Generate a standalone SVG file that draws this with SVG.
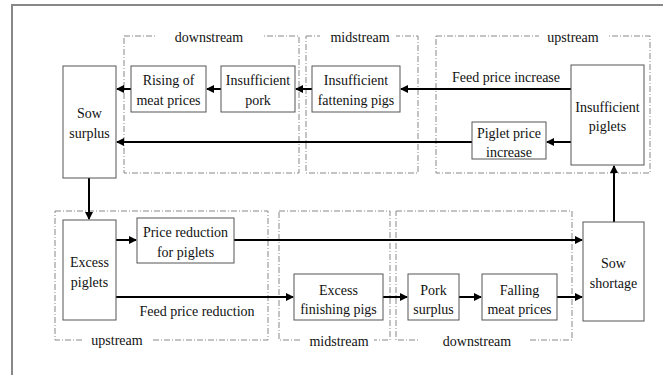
<svg xmlns="http://www.w3.org/2000/svg" width="663" height="375" viewBox="0 0 663 375" font-family="Liberation Serif, Times New Roman, serif">
<style>
.box{fill:#fff;stroke:#555;stroke-width:1}
.grp{fill:none;stroke:#888;stroke-width:1;stroke-dasharray:6 2 1 2}
.t{font-size:14px;fill:#111;text-anchor:middle}
.lbl{fill:#fff}
.c{fill:none;stroke:#000;stroke-width:2}
</style>
<defs>
<marker id="ah" viewBox="0 0 8 8" refX="7" refY="4" markerWidth="4" markerHeight="4" orient="auto" markerUnits="strokeWidth">
<path d="M0,0 L8,4 L0,8 Z" fill="#000"/>
</marker>
</defs>
<rect width="663" height="375" fill="#fff"/>
<rect x="12" y="5" width="670" height="390" fill="none" stroke="#888" stroke-width="2"/>

<g id="groups">
<rect class="grp" x="124" y="36" width="175" height="137"/>
<rect class="lbl" x="157" y="30" width="105" height="14"/>
<text class="t" x="209" y="42">downstream</text>
<rect class="grp" x="306" y="36" width="112" height="137"/>
<rect class="lbl" x="320" y="30" width="76" height="14"/>
<text class="t" x="360" y="42">midstream</text>
<rect class="grp" x="436" y="36" width="214" height="137"/>
<rect class="lbl" x="539" y="30" width="69" height="14"/>
<text class="t" x="573" y="42">upstream</text>

<rect class="grp" x="55" y="211" width="213" height="129"/>
<rect class="lbl" x="82" y="333" width="70" height="14"/>
<text class="t" x="117" y="345">upstream</text>
<rect class="grp" x="279" y="211" width="111" height="129"/>
<rect class="lbl" x="302" y="333" width="72" height="14"/>
<text class="t" x="339" y="346">midstream</text>
<rect class="grp" x="396" y="211" width="176" height="129"/>
<rect class="lbl" x="419" y="333" width="111" height="14"/>
<text class="t" x="477" y="346">downstream</text>
</g>

<g id="connectors">
<line class="c" x1="131" y1="89" x2="117" y2="89" marker-end="url(#ah)"/>
<line class="c" x1="221" y1="89" x2="207" y2="89" marker-end="url(#ah)"/>
<line class="c" x1="312" y1="89" x2="296" y2="89" marker-end="url(#ah)"/>
<line class="c" x1="571" y1="89" x2="401" y2="89" marker-end="url(#ah)"/>
<line class="c" x1="571" y1="142" x2="547" y2="142" marker-end="url(#ah)"/>
<line class="c" x1="472" y1="142" x2="117" y2="142" marker-end="url(#ah)"/>
<line class="c" x1="89" y1="178" x2="89" y2="219" marker-end="url(#ah)"/>
<line class="c" x1="116" y1="240" x2="136" y2="240" marker-end="url(#ah)"/>
<line class="c" x1="234" y1="240" x2="582" y2="240" marker-end="url(#ah)"/>
<line class="c" x1="116" y1="297" x2="293" y2="297" marker-end="url(#ah)"/>
<line class="c" x1="383" y1="297" x2="407" y2="297" marker-end="url(#ah)"/>
<line class="c" x1="459" y1="297" x2="481" y2="297" marker-end="url(#ah)"/>
<line class="c" x1="557" y1="297" x2="582" y2="297" marker-end="url(#ah)"/>
<line class="c" x1="614" y1="222" x2="614" y2="166" marker-end="url(#ah)"/>
<text class="t" x="506" y="82">Feed price increase</text>
<text class="t" x="197" y="316">Feed price reduction</text>
</g>

<g id="sow-surplus"><rect class="box" x="63" y="66" width="53" height="112"/><text class="t" x="89.5" y="118">Sow</text><text class="t" x="89.5" y="138">surplus</text></g>
<g id="rising-meat-prices"><rect class="box" x="131" y="66" width="75" height="46"/><text class="t" x="168.5" y="85">Rising of</text><text class="t" x="168.5" y="105">meat prices</text></g>
<g id="insufficient-pork"><rect class="box" x="221" y="66" width="74" height="46"/><text class="t" x="258" y="85">Insufficient</text><text class="t" x="258" y="105">pork</text></g>
<g id="insufficient-fattening-pigs"><rect class="box" x="312" y="66" width="88" height="46"/><text class="t" x="356" y="85">Insufficient</text><text class="t" x="356" y="105">fattening pigs</text></g>
<g id="insufficient-piglets"><rect class="box" x="571" y="65" width="73" height="100"/><text class="t" x="607.5" y="112">Insufficient</text><text class="t" x="607.5" y="131">piglets</text></g>
<g id="piglet-price-increase"><rect class="box" x="472" y="122" width="74" height="37"/><text class="t" x="509" y="138">Piglet price</text><text class="t" x="509" y="157">increase</text></g>
<g id="excess-piglets"><rect class="box" x="63" y="220" width="53" height="100"/><text class="t" x="89.5" y="267">Excess</text><text class="t" x="89.5" y="287">piglets</text></g>
<g id="price-reduction-piglets"><rect class="box" x="137" y="218" width="97" height="45"/><text class="t" x="185.5" y="237">Price reduction</text><text class="t" x="185.5" y="257">for piglets</text></g>
<g id="excess-finishing-pigs"><rect class="box" x="294" y="274" width="89" height="46"/><text class="t" x="338.5" y="295">Excess</text><text class="t" x="338.5" y="314">finishing pigs</text></g>
<g id="pork-surplus"><rect class="box" x="408" y="274" width="51" height="46"/><text class="t" x="433.5" y="295">Pork</text><text class="t" x="433.5" y="314">surplus</text></g>
<g id="falling-meat-prices"><rect class="box" x="482" y="274" width="75" height="46"/><text class="t" x="519.5" y="295">Falling</text><text class="t" x="519.5" y="314">meat prices</text></g>
<g id="sow-shortage"><rect class="box" x="583" y="222" width="61" height="99"/><text class="t" x="613.5" y="268">Sow</text><text class="t" x="613.5" y="288">shortage</text></g>
</svg>
